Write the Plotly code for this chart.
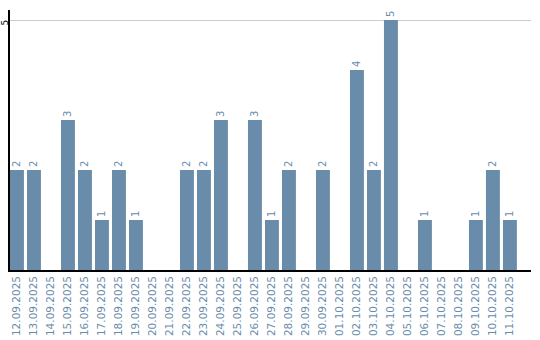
import plotly.graph_objects as go

dates = ["12.09.2025", "13.09.2025", "14.09.2025", "15.09.2025", "16.09.2025",
         "17.09.2025", "18.09.2025", "19.09.2025", "20.09.2025", "21.09.2025",
         "22.09.2025", "23.09.2025", "24.09.2025", "25.09.2025", "26.09.2025",
         "27.09.2025", "28.09.2025", "29.09.2025", "30.09.2025", "01.10.2025",
         "02.10.2025", "03.10.2025", "04.10.2025", "05.10.2025", "06.10.2025",
         "07.10.2025", "08.10.2025", "09.10.2025", "10.10.2025", "11.10.2025"]
counts = [2, 2, 0, 3, 2, 1, 2, 1, 0, 0,
          2, 2, 3, 0, 3, 1, 2, 0, 2, 0,
          4, 2, 5, 0, 1, 0, 0, 1, 2, 1]
labels = [str(v) if v > 0 else "" for v in counts]

bar_color = "#6a8cab"
text_color = "#6a8cab"

fig = go.Figure(go.Bar(
    x=dates, y=counts, text=labels, textposition="outside", textangle=-90,
    textfont=dict(family="DejaVu Sans", size=10, color=text_color),
    marker=dict(color=bar_color, line=dict(width=0)),
    cliponaxis=False, hoverinfo="skip",
))

fig.update_layout(
    width=540, height=340,
    margin=dict(l=10, r=9, t=10, b=70, autoexpand=False),
    paper_bgcolor="white", plot_bgcolor="white",
    bargap=0.18, showlegend=False,
    font=dict(family="DejaVu Sans"),
    uniformtext=dict(minsize=10, mode="show"),
)
fig.update_xaxes(
    type="category", range=[-0.41, 30.24], tickangle=-90, automargin=False,
    tickfont=dict(family="DejaVu Sans", size=10.5, color=text_color),
    showline=True, linecolor="black", linewidth=1.5,
    showgrid=False, ticks="", ticklen=0, fixedrange=True,
)
fig.update_yaxes(
    range=[0, 5.2], tickvals=[5], ticktext=["5"], tickangle=-90, automargin=False,
    tickfont=dict(family="DejaVu Sans", size=9, color="black"),
    ticklabelstandoff=-3, ticklabelshift=4,
    showline=True, linecolor="black", linewidth=1.5,
    showgrid=True, gridcolor="#cccccc", gridwidth=1,
    zeroline=False, ticks="", ticklen=0,
)

fig.write_html("out.html")
